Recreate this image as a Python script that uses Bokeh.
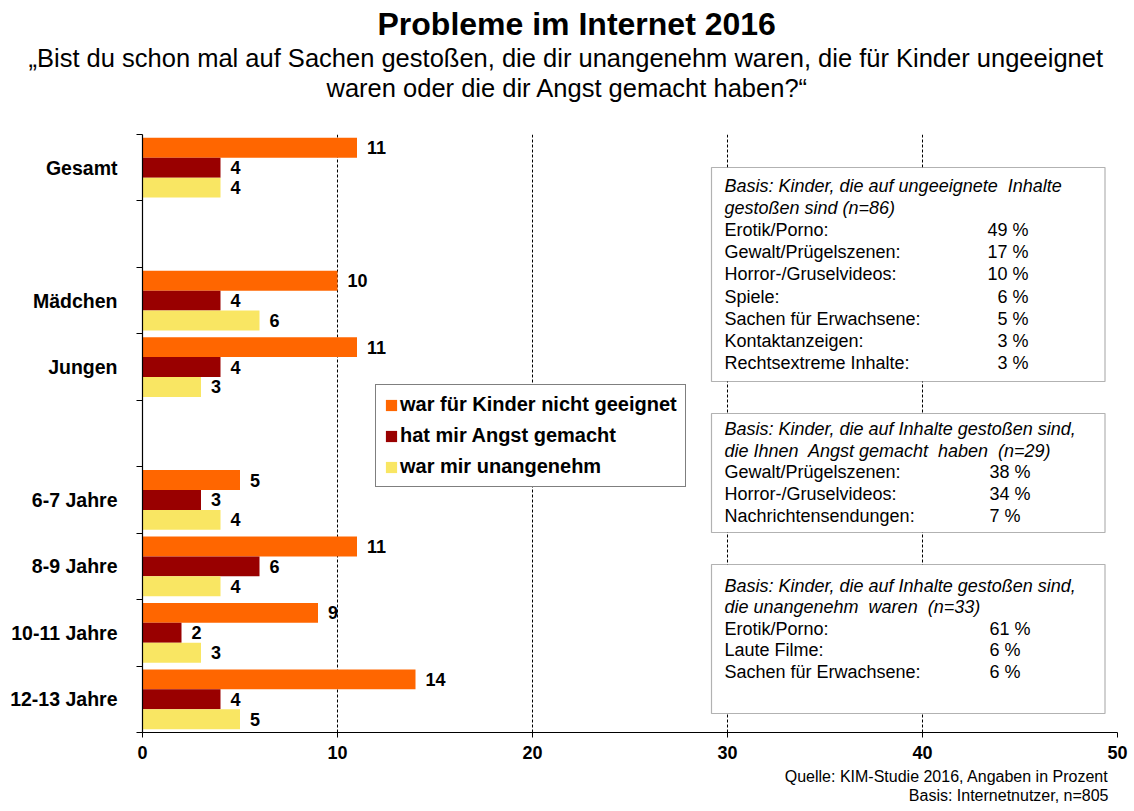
from bokeh.plotting import figure
from bokeh.models import (ColumnDataSource, Range1d, FixedTicker, Label, BoxAnnotation,
                          Legend, LegendItem, Title)
from bokeh.transform import dodge
from bokeh.core.properties import value
from bokeh.embed import file_html
from bokeh.resources import INLINE

# ---------------- data ----------------
categories = ["Gesamt", "Mädchen", "Jungen", "6-7 Jahre", "8-9 Jahre", "10-11 Jahre", "12-13 Jahre"]
slots = [0, 2, 3, 5, 6, 7, 8]          # row slot from the top (gaps at 1 and 4)
n_slots = 9
series_names = ["war für Kinder nicht geeignet", "hat mir Angst gemacht", "war mir unangenehm"]
ungeeignet = [11, 10, 11, 5, 11, 9, 14]
angst = [4, 4, 4, 3, 6, 2, 4]
unangenehm = [4, 6, 3, 4, 4, 3, 5]
x_ticks = [0, 10, 20, 30, 40, 50]

box1_head = ["Basis: Kinder, die auf ungeeignete\u00a0 Inhalte", "gestoßen sind (n=86)"]
box1_items = ["Erotik/Porno:", "Gewalt/Prügelszenen:", "Horror-/Gruselvideos:", "Spiele:",
              "Sachen für Erwachsene:", "Kontaktanzeigen:", "Rechtsextreme Inhalte:"]
box1_vals = [49, 17, 10, 6, 5, 3, 3]
box2_head = ["Basis: Kinder, die auf Inhalte gestoßen sind,", "die Ihnen\u00a0 Angst gemacht\u00a0 haben\u00a0 (n=29)"]
box2_items = ["Gewalt/Prügelszenen:", "Horror-/Gruselvideos:", "Nachrichtensendungen:"]
box2_vals = [38, 34, 7]
box3_head = ["Basis: Kinder, die auf Inhalte gestoßen sind,", "die unangenehm\u00a0 waren\u00a0 (n=33)"]
box3_items = ["Erotik/Porno:", "Laute Filme:", "Sachen für Erwachsene:"]
box3_vals = [61, 6, 6]

title = "Probleme im Internet 2016"
subtitle1 = "„Bist du schon mal auf Sachen gestoßen, die dir unangenehm waren, die für Kinder ungeeignet"
subtitle2 = "waren oder die dir Angst gemacht haben?“"
source1 = "Quelle: KIM-Studie 2016, Angaben in Prozent"
source2 = "Basis: Internetnutzer, n=805"

colors = ["#FF6600", "#990000", "#F9E663"]
FONT = "Liberation Sans"

# ---------------- figure ----------------
W, H = 1132, 811
FL, FR, FT, FB = 142.0, 1117.0, 134.0, 732.0     # frame edges in page pixels
p = figure(width=W, height=H, output_backend="svg", toolbar_location=None,
           x_range=Range1d(0, 50), y_range=Range1d(0, n_slots),
           min_border_left=int(FL), min_border_right=int(W - FR),
           min_border_top=int(FT), min_border_bottom=int(H - FB))
p.outline_line_color = None
p.background_fill_color = "white"
p.border_fill_color = "white"
p.title.text = ""
p.title.standoff = 0

# helpers: page pixel position -> data coordinates (layout only)
def dx(X):
    return (X - FL) / (FR - FL) * 50
def dy(Y):
    return (FB - Y) / (FB - FT) * n_slots

ycent = [n_slots - s - 0.5 for s in slots]
src = ColumnDataSource(dict(
    y=ycent, cat=categories,
    a=ungeeignet, b=angst, c=unangenehm,
    at=[str(v) for v in ungeeignet], bt=[str(v) for v in angst], ct=[str(v) for v in unangenehm],
))

renderers = []
for col, off, colr in zip(["a", "b", "c"], [0.3, 0.0, -0.3], colors):
    r = p.hbar(y=dodge("y", off, range=p.y_range), left=0, right=col, height=0.3,
               source=src, fill_color=colr, line_color=None)
    renderers.append(r)
    p.text(x=col, y=dodge("y", off, range=p.y_range), text=col + "t", source=src,
           x_offset=10, text_align="left", text_baseline="middle",
           text_font=value(FONT), text_font_size="18px", text_font_style="bold",
           text_color="black")

# axes
p.xaxis.ticker = FixedTicker(ticks=x_ticks)
p.xaxis.axis_line_color = "black"
p.xaxis.axis_line_width = 1.2
p.xaxis.major_tick_line_color = "black"
p.xaxis.major_tick_out = 5
p.xaxis.major_tick_in = 0
p.xaxis.minor_tick_line_color = None
p.xaxis.major_label_text_font = FONT
p.xaxis.major_label_text_font_size = "18px"
p.xaxis.major_label_text_font_style = "bold"
p.xaxis.major_label_text_color = "black"
p.xaxis.major_label_standoff = 8

p.yaxis.ticker = FixedTicker(ticks=ycent, minor_ticks=list(range(0, n_slots + 1)))
p.yaxis.major_label_overrides = {y: c for y, c in zip(ycent, categories)}
p.yaxis.axis_line_color = "black"
p.yaxis.axis_line_width = 1.2
p.yaxis.major_tick_out = 0
p.yaxis.major_tick_in = 0
p.yaxis.major_tick_line_color = None
p.yaxis.minor_tick_line_color = "black"
p.yaxis.minor_tick_out = 6
p.yaxis.minor_tick_in = 0
p.yaxis.major_label_text_font = FONT
p.yaxis.major_label_text_font_size = "19.5px"
p.yaxis.major_label_text_font_style = "bold"
p.yaxis.major_label_text_color = "black"
p.yaxis.major_label_standoff = 19

p.ygrid.grid_line_color = None
p.xgrid.ticker = FixedTicker(ticks=x_ticks[1:])
p.xgrid.grid_line_color = "black"
p.xgrid.grid_line_dash = "3 2"
p.xgrid.grid_line_width = 1

# legend
legend = Legend(items=[LegendItem(label=n, renderers=[r]) for n, r in zip(series_names, renderers)],
                location=(int(375 - FL), int(FB - 487)))
legend.label_text_font = FONT
legend.label_text_font_size = "20px"
legend.label_text_font_style = "bold"
legend.label_text_color = "black"
legend.glyph_width = 14
legend.glyph_height = 14
legend.label_height = 20
legend.label_standoff = 2
legend.spacing = 8
legend.padding = 8
legend.margin = 0
legend.border_line_color = "black"
legend.border_line_width = 1.2
legend.background_fill_color = "white"
legend.background_fill_alpha = 1
p.add_layout(legend, "center")

# inset boxes
def inset(top, bottom, head, items, vals, y0, step, val_x, val_align):
    p.add_layout(BoxAnnotation(left=dx(711), right=dx(1104.5), top=dy(top), bottom=dy(bottom),
                               fill_color="white", fill_alpha=1, line_color="black", line_width=1.2))
    lines = [(h, None, "italic") for h in head] + [(it, f"{v} %", "normal") for it, v in zip(items, vals)]
    for i, (t, v, style) in enumerate(lines):
        Y = y0 + i * step
        p.add_layout(Label(x=dx(724), y=dy(Y), text=t, text_font=FONT, text_font_size="18px",
                           text_font_style=style, text_baseline="middle", text_align="left",
                           text_color="black"))
        if v is not None:
            p.add_layout(Label(x=dx(val_x), y=dy(Y), text=v, text_font=FONT, text_font_size="18px",
                               text_baseline="middle", text_align=val_align, text_color="black"))

inset(167, 381, box1_head, box1_items, box1_vals, 185, 22.2, 1028, "right")
inset(413, 532, box2_head, box2_items, box2_vals, 428.5, 21.7, 989, "left")
inset(564, 713, box3_head, box3_items, box3_vals, 585, 21.5, 989, "left")

# titles above (first added = closest to the frame)
def ttl(text, size, style, left, standoff=0):
    return Title(text=text, text_font=FONT, text_font_size=size, text_font_style=style,
                 text_color="black", align="left", offset=left - FL, standoff=standoff,
                 vertical_align="bottom")

p.add_layout(Title(text=" ", text_font_size="1px", standoff=30), "above")           # spacer
p.add_layout(ttl(subtitle2, "25.5px", "normal", 326), "above")
p.add_layout(ttl(subtitle1, "25.5px", "normal", 28), "above")
p.add_layout(ttl(title, "32px", "bold", 377), "above")

# source lines below
p.add_layout(Title(text=" ", text_font_size="1px", standoff=3), "below")            # spacer
for s in (source1, source2):
    p.add_layout(Title(text=s, text_font=FONT, text_font_size="16px", text_font_style="normal",
                       text_color="black", align="right", offset=FR - 1108, standoff=0,
                       vertical_align="top"), "below")

open("out.html", "w").write(file_html(p, INLINE))
